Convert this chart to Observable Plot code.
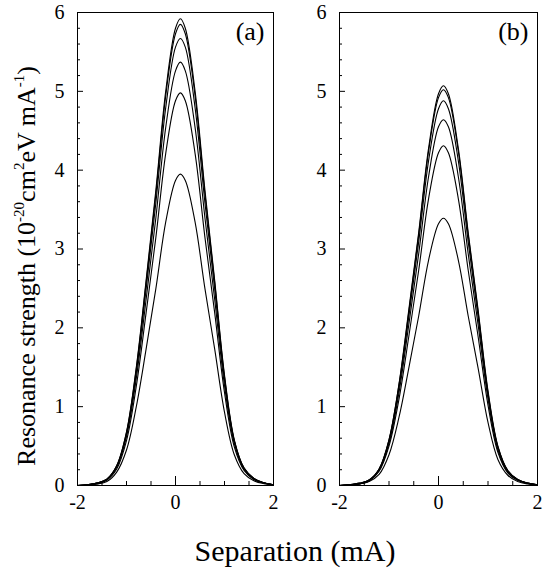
<!DOCTYPE html>
<html><head><meta charset="utf-8">
<script src="https://cdn.jsdelivr.net/npm/d3@7"></script>
<script src="https://cdn.jsdelivr.net/npm/@observablehq/plot@0.6"></script>
<style>
body{margin:0;background:#fff;}
#wrap{position:relative;width:545px;height:575px;font-family:"Liberation Serif","Times New Roman",serif;color:#000;}
.p{position:absolute;top:0;}
#ylab{position:absolute;left:27px;top:266px;transform:translate(-50%,-50%) rotate(-90deg);white-space:nowrap;font-size:26px;font-family:"Liberation Serif",serif;}
#ylab sup{font-size:15px;vertical-align:11px;line-height:0;}
#xlab{position:absolute;left:295px;top:551px;transform:translate(-50%,-50%);font-size:30px;white-space:nowrap;font-family:"Liberation Serif",serif;}
</style></head>
<body>
<div id="wrap">
  <div id="pa" class="p" style="left:0px"></div>
  <div id="pb" class="p" style="left:262px"></div>
  <div id="ylab">Resonance strength (10<sup>-20</sup>cm<sup>2</sup>eV mA<sup>-1</sup>)</div>
  <div id="xlab">Separation (mA)</div>
</div>
<script>
// shared separation grid (mA)
const xs = [-2.0, -1.8, -1.6, -1.4, -1.2, -1.0, -0.8, -0.6, -0.4, -0.2, 0.0, 0.1, 0.2, 0.4, 0.6, 0.8, 1.0, 1.2, 1.4, 1.6, 1.8, 2.0];

// panel (a) curves
const a1 = [0, 0.01, 0.03, 0.08, 0.25, 0.68, 1.50, 2.60, 3.75, 5.00, 5.80, 5.92, 5.80, 5.00, 3.75, 2.60, 1.40, 0.58, 0.22, 0.09, 0.035, 0.01];
const a2 = [0, 0.01, 0.03, 0.08, 0.25, 0.67, 1.48, 2.57, 3.70, 4.94, 5.73, 5.85, 5.73, 4.94, 3.70, 2.57, 1.38, 0.57, 0.22, 0.09, 0.035, 0.01];
const a3 = [0, 0.01, 0.03, 0.08, 0.24, 0.65, 1.43, 2.49, 3.59, 4.79, 5.56, 5.67, 5.56, 4.79, 3.59, 2.49, 1.34, 0.56, 0.21, 0.085, 0.034, 0.01];
const a4 = [0, 0.01, 0.03, 0.07, 0.23, 0.62, 1.36, 2.36, 3.40, 4.54, 5.26, 5.37, 5.26, 4.54, 3.40, 2.36, 1.27, 0.53, 0.20, 0.08, 0.032, 0.01];
const a5 = [0, 0.01, 0.02, 0.07, 0.21, 0.57, 1.26, 2.19, 3.15, 4.21, 4.88, 4.98, 4.88, 4.21, 3.15, 2.19, 1.18, 0.49, 0.19, 0.075, 0.03, 0.01];
const a6 = [0, 0.01, 0.02, 0.05, 0.17, 0.45, 1.00, 1.73, 2.50, 3.34, 3.87, 3.95, 3.87, 3.34, 2.50, 1.73, 0.93, 0.39, 0.15, 0.06, 0.024, 0.01];

// panel (b) curves
const b1 = [0, 0.01, 0.03, 0.07, 0.21, 0.58, 1.28, 2.23, 3.21, 4.28, 4.97, 5.07, 4.97, 4.28, 3.21, 2.23, 1.20, 0.50, 0.19, 0.076, 0.03, 0.01];
const b2 = [0, 0.01, 0.03, 0.07, 0.21, 0.58, 1.27, 2.20, 3.18, 4.24, 4.92, 5.02, 4.92, 4.24, 3.18, 2.20, 1.18, 0.49, 0.19, 0.075, 0.03, 0.01];
const b3 = [0, 0.01, 0.02, 0.07, 0.20, 0.56, 1.23, 2.14, 3.09, 4.12, 4.78, 4.88, 4.78, 4.12, 3.09, 2.14, 1.15, 0.48, 0.18, 0.073, 0.03, 0.01];
const b4 = [0, 0.01, 0.02, 0.06, 0.19, 0.53, 1.17, 2.04, 2.94, 3.92, 4.55, 4.64, 4.55, 3.92, 2.94, 2.04, 1.10, 0.45, 0.17, 0.07, 0.028, 0.01];
const b5 = [0, 0.01, 0.02, 0.06, 0.18, 0.50, 1.09, 1.89, 2.73, 3.64, 4.22, 4.31, 4.22, 3.64, 2.73, 1.89, 1.02, 0.42, 0.16, 0.065, 0.026, 0.01];
const b6 = [0, 0.01, 0.02, 0.05, 0.14, 0.39, 0.86, 1.49, 2.15, 2.86, 3.32, 3.39, 3.32, 2.86, 2.15, 1.49, 0.80, 0.33, 0.13, 0.05, 0.02, 0.01];

// ticks
const yTickLabels = [0, 1, 2, 3, 4, 5, 6];
const yMinorTicks = [0.2,0.4,0.6,0.8,1.2,1.4,1.6,1.8,2.2,2.4,2.6,2.8,3.2,3.4,3.6,3.8,4.2,4.4,4.6,4.8,5.2,5.4,5.6,5.8];
const xTickLabels = [-2, 0, 2];
const xMinorTicks = [-1.5, -1, -0.5, 0.5, 1, 1.5];
const xMajorTicks = [0];

const font = "'Liberation Serif', 'Times New Roman', serif";

function panel(series, label, width, marginRight) {
  const marginLeft = 77, marginTop = 12, marginBottom = 30, height = 515;
  const innerW = width - marginLeft - marginRight;
  const innerH = height - marginTop - marginBottom;
  const data = series.flatMap((ys, k) => ys.map((y, j) => ({x: xs[j], y, k})));
  return Plot.plot({
    width, height, marginLeft, marginRight, marginTop, marginBottom,
    style: `font-family: ${font}; font-size: 20px; background: transparent; color: black; overflow: visible;`,
    x: {domain: [-2, 2]},
    y: {domain: [0, 6]},
    marks: [
      Plot.line(data, {x: "x", y: "y", z: "k", curve: "catmull-rom", stroke: "black", strokeWidth: 1.1}),
      Plot.tickY(yMinorTicks, {y: d => d, insetRight: innerW - 3, stroke: "black"}),
      Plot.tickY(yTickLabels, {y: d => d, insetRight: innerW - 6, stroke: "black"}),
      Plot.tickX(xMinorTicks, {x: d => d, insetTop: innerH - 4, stroke: "black"}),
      Plot.tickX(xMajorTicks, {x: d => d, insetTop: innerH - 9, stroke: "black"}),
      Plot.axisY({ticks: yTickLabels, tickSize: 0, tickPadding: 13, tickFormat: d => String(d), label: null, fontSize: 20, fontFamily: font}),
      Plot.axisX({ticks: xTickLabels, tickSize: 0, tickPadding: 9, tickFormat: d => String(d), label: null, fontSize: 20, fontFamily: font}),
      Plot.frame({stroke: "black", strokeWidth: 1}),
      Plot.text([label], {text: d => d, frameAnchor: "top-right", dx: -9, dy: 9, lineAnchor: "top", textAnchor: "end", fontSize: 26, fontFamily: font})
    ]
  });
}

document.getElementById("pa").append(panel([a1, a2, a3, a4, a5, a6], "(a)", 290, 17));
document.getElementById("pb").append(panel([b1, b2, b3, b4, b5, b6], "(b)", 283, 8));
</script>
</body></html>
